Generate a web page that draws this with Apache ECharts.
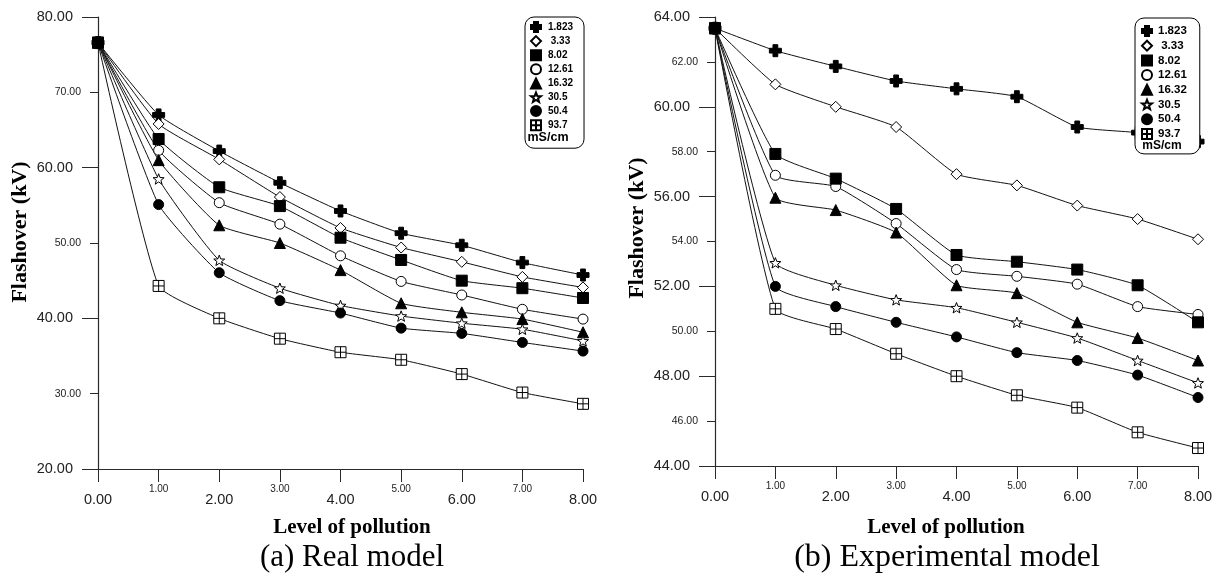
<!DOCTYPE html>
<html>
<head>
<meta charset="utf-8">
<script src="https://cdn.jsdelivr.net/npm/echarts@6/dist/echarts.min.js"></script>
<style>
  html, body { margin: 0; padding: 0; background: #fff; }
  #chart { width: 1218px; height: 583px; }
</style>
</head>
<body>
<div id="chart"></div>
<script>
// Pollution level (x) and salt-solution conductivity (mS/cm) per curve
const levels = [0, 1, 2, 3, 4, 5, 6, 7, 8];
const conductivities = ['1.823', '3.33', '8.02', '12.61', '16.32', '30.5', '50.4', '93.7'];

// (a) Real model – flashover voltage, kV
const real1823 = [76.6, 67.0, 62.2, 58.0, 54.25, 51.3, 49.7, 47.4, 45.75];
const real333  = [76.6, 65.8, 61.1, 56.1, 52.0, 49.4, 47.5, 45.5, 44.1];
const real802  = [76.6, 63.8, 57.4, 54.9, 50.7, 47.75, 45.0, 44.0, 42.7];
const real1261 = [76.6, 62.3, 55.35, 52.5, 48.3, 44.9, 43.1, 41.2, 39.9];
const real1632 = [76.6, 61.0, 52.35, 50.0, 46.4, 42.0, 40.8, 39.9, 38.15];
const real305  = [76.6, 58.5, 47.7, 44.0, 41.7, 40.3, 39.35, 38.55, 37.0];
const real504  = [76.6, 55.1, 46.05, 42.35, 40.7, 38.7, 38.0, 36.8, 35.65];
const real937  = [76.6, 44.3, 40.0, 37.3, 35.5, 34.5, 32.6, 30.15, 28.65];

// (b) Experimental model – flashover voltage, kV
const exp1823 = [63.5, 62.5, 61.8, 61.15, 60.8, 60.45, 59.1, 58.85, 58.45];
const exp333  = [63.5, 61.0, 60.0, 59.1, 57.0, 56.5, 55.6, 55.0, 54.1];
const exp802  = [63.5, 57.9, 56.8, 55.45, 53.4, 53.1, 52.75, 52.05, 50.4];
const exp1261 = [63.5, 56.95, 56.45, 54.8, 52.75, 52.45, 52.1, 51.1, 50.75];
const exp1632 = [63.5, 55.95, 55.4, 54.4, 52.05, 51.7, 50.4, 49.7, 48.7];
const exp305  = [63.5, 53.05, 52.05, 51.4, 51.05, 50.4, 49.7, 48.7, 47.7];
const exp504  = [63.5, 52.0, 51.1, 50.4, 49.75, 49.05, 48.7, 48.05, 47.05];
const exp937  = [63.5, 51.0, 50.1, 49.0, 48.0, 47.15, 46.6, 45.5, 44.8];

// Tick values for the two y scales
const realTicks = [20, 30, 40, 50, 60, 70, 80];
const expTicks = [44, 46, 48, 50, 52, 54, 56, 58, 60, 62, 64];

const realModel = [real1823, real333, real802, real1261, real1632, real305, real504, real937];
const expModel = [exp1823, exp333, exp802, exp1261, exp1632, exp305, exp504, exp937];

// Marker shapes
const PLUS = 'path://M3,0H7V3H10V7H7V10H3V7H0V3H3Z';
const STAR = 'path://M10,0L12.47,6.6L19.51,6.91L13.99,11.3L15.88,18.09L10,14.2L4.12,18.09L6.01,11.3L0.49,6.91L7.53,6.6Z';
const BOXPLUS = 'path://M0,0H10V10H0Z M5,0V10 M0,5H10';

const markerStyles = [
  { symbol: PLUS,      size: 12, fill: '#000' },
  { symbol: 'diamond', size: 11, fill: '#fff' },
  { symbol: 'rect',    size: 11, fill: '#000' },
  { symbol: 'circle',  size: 10, fill: '#fff' },
  { symbol: 'triangle',size: 11, fill: '#000' },
  { symbol: STAR,      size: 11, fill: '#fff' },
  { symbol: 'circle',  size: 10, fill: '#000' },
  { symbol: BOXPLUS,   size: 11, fill: '#fff' }
];

const SANS = '"Liberation Sans", Arial, sans-serif';
const SERIF = '"Liberation Serif", "Times New Roman", serif';
const AXIS_COLOR = '#2a2a2a';
const LABEL_COLOR = '#222';

function buildSeries(model, xIdx, yIdx) {
  return conductivities.map((name, i) => {
    const m = markerStyles[i];
    return {
      name: name,
      type: 'line',
      xAxisIndex: xIdx,
      yAxisIndex: yIdx,
      data: levels.map((x, j) => [x, model[i][j]]),
      smooth: 0.15,
      symbol: m.symbol,
      symbolSize: m.size,
      symbolKeepAspect: true,
      showAllSymbol: true,
      z: name === '8.02' ? 5 : 3,
      lineStyle: { color: '#111', width: 1 },
      itemStyle: { color: m.fill, borderColor: '#000', borderWidth: 1 },
      emphasis: { disabled: true },
      animation: false
    };
  });
}

function fmt(v) { return Number(v).toFixed(2); }

// Major y axis: long ticks, large labels
function yMajor(gridIndex, min, max, step) {
  return {
    type: 'value', gridIndex, min, max, interval: step, position: 'left', offset: 0,
    axisLine: { show: true, onZero: false, lineStyle: { color: AXIS_COLOR, width: 1.2 } },
    axisTick: { show: true, length: 16, lineStyle: { color: AXIS_COLOR, width: 1 } },
    axisLabel: { show: true, margin: 25, fontSize: 14.5, fontFamily: SANS, color: LABEL_COLOR,
                 showMinLabel: true, showMaxLabel: true, formatter: fmt },
    splitLine: { show: false }
  };
}
// Minor y axis: short ticks, small labels between majors
function yMinor(gridIndex, min, max, step) {
  return {
    type: 'value', gridIndex, min, max, interval: step, position: 'left', offset: 0,
    axisLine: { show: false, onZero: false },
    axisTick: { show: true, length: 8, lineStyle: { color: AXIS_COLOR, width: 1 } },
    axisLabel: { show: true, margin: 17, fontSize: 10.5, fontFamily: SANS, color: LABEL_COLOR,
                 showMinLabel: true, showMaxLabel: true,
                 formatter: v => (Math.round((v - min) / step) % 2 === 1 ? fmt(v) : '') },
    splitLine: { show: false }
  };
}
function xMajor(gridIndex) {
  return {
    type: 'value', gridIndex, min: 0, max: 8, interval: 1, position: 'bottom', offset: 0,
    axisLine: { show: true, onZero: false, lineStyle: { color: AXIS_COLOR, width: 1.2 } },
    axisTick: { show: true, length: 13, lineStyle: { color: AXIS_COLOR, width: 1 } },
    axisLabel: { show: true, margin: 23, fontSize: 14.5, fontFamily: SANS, color: LABEL_COLOR,
                 showMinLabel: true, showMaxLabel: true,
                 formatter: v => (v % 2 === 0 ? fmt(v) : '') },
    splitLine: { show: false }
  };
}
function xMinor(gridIndex) {
  return {
    type: 'value', gridIndex, min: 0, max: 8, interval: 1, position: 'bottom', offset: 0,
    axisLine: { show: false, onZero: false }, axisTick: { show: false },
    axisLabel: { show: true, margin: 15, fontSize: 10, fontFamily: SANS, color: LABEL_COLOR,
                 showMinLabel: true, showMaxLabel: true,
                 formatter: v => (v % 2 === 1 ? fmt(v) : '') },
    splitLine: { show: false }
  };
}

function legendData() {
  return conductivities.map((name, i) => ({ name, icon: markerStyles[i].symbol }));
}

const realMin = realTicks[0], realMax = realTicks[realTicks.length - 1];
const expMin = expTicks[0], expMax = expTicks[expTicks.length - 1];

const option = {
  backgroundColor: '#fff',
  animation: false,
  grid: [
    { left: 98, top: 17, width: 485, height: 452 },
    { left: 715, top: 17, width: 483, height: 449 }
  ],
  xAxis: [xMajor(0), xMinor(0), xMajor(1), xMinor(1)],
  yAxis: [
    yMajor(0, realMin, realMax, 20), yMinor(0, realMin, realMax, 10),
    yMajor(1, expMin, expMax, 4), yMinor(1, expMin, expMax, 2)
  ],
  legend: [
    {
      left: 525, top: 17, orient: 'vertical',
      padding: [4, 11, 17, 5], itemGap: 2.1, itemWidth: 10, itemHeight: 10,
      backgroundColor: '#fff', borderColor: '#000', borderWidth: 1, borderRadius: 9,
      textStyle: { fontFamily: SANS, fontWeight: 'bold', fontSize: 10, color: '#000', padding: [0, 0, 0, 2] },
      formatter: n => (n === '3.33' ? ' ' + n : n),
      selectedMode: false, z: 10,
      data: legendData()
    },
    {
      left: 1135, top: 18, orient: 'vertical',
      padding: [7, 13, 14, 6], itemGap: 2.7, itemWidth: 10, itemHeight: 10,
      backgroundColor: '#fff', borderColor: '#000', borderWidth: 1, borderRadius: 9,
      textStyle: { fontFamily: SANS, fontWeight: 'bold', fontSize: 11.5, color: '#000', padding: [0, 0, 0, 1] },
      formatter: n => (n === '3.33' ? ' ' + n : n),
      selectedMode: false, z: 10,
      data: legendData()
    }
  ],
  graphic: [
    { type: 'text', x: 20, y: 232, rotation: Math.PI / 2, z: 100,
      style: { text: 'Flashover (kV)', font: 'bold 22px ' + SERIF, fill: '#000', align: 'center', verticalAlign: 'middle' } },
    { type: 'text', x: 637, y: 228, rotation: Math.PI / 2, z: 100,
      style: { text: 'Flashover (kV)', font: 'bold 22px ' + SERIF, fill: '#000', align: 'center', verticalAlign: 'middle' } },
    { type: 'text', x: 352, y: 528, z: 100,
      style: { text: 'Level of pollution', font: 'bold 21px ' + SERIF, fill: '#000', align: 'center', verticalAlign: 'middle' } },
    { type: 'text', x: 946, y: 528, z: 100,
      style: { text: 'Level of pollution', font: 'bold 21px ' + SERIF, fill: '#000', align: 'center', verticalAlign: 'middle' } },
    { type: 'text', x: 352, y: 558, z: 100,
      style: { text: '(a) Real model', font: '31px ' + SERIF, fill: '#000', align: 'center', verticalAlign: 'middle' } },
    { type: 'text', x: 947, y: 558, z: 100,
      style: { text: '(b) Experimental model', font: '32px ' + SERIF, fill: '#000', align: 'center', verticalAlign: 'middle' } },
    { type: 'text', x: 548, y: 138, z: 100,
      style: { text: 'mS/cm', font: 'bold 12.5px ' + SANS, fill: '#000', align: 'center', verticalAlign: 'middle' } },
    { type: 'text', x: 1162, y: 146, z: 100,
      style: { text: 'mS/cm', font: 'bold 12px ' + SANS, fill: '#000', align: 'center', verticalAlign: 'middle' } }
  ],
  series: buildSeries(realModel, 0, 0).concat(buildSeries(expModel, 2, 2))
};

const chart = echarts.init(document.getElementById('chart'), null, { renderer: 'canvas' });
chart.setOption(option);
</script>
</body>
</html>
